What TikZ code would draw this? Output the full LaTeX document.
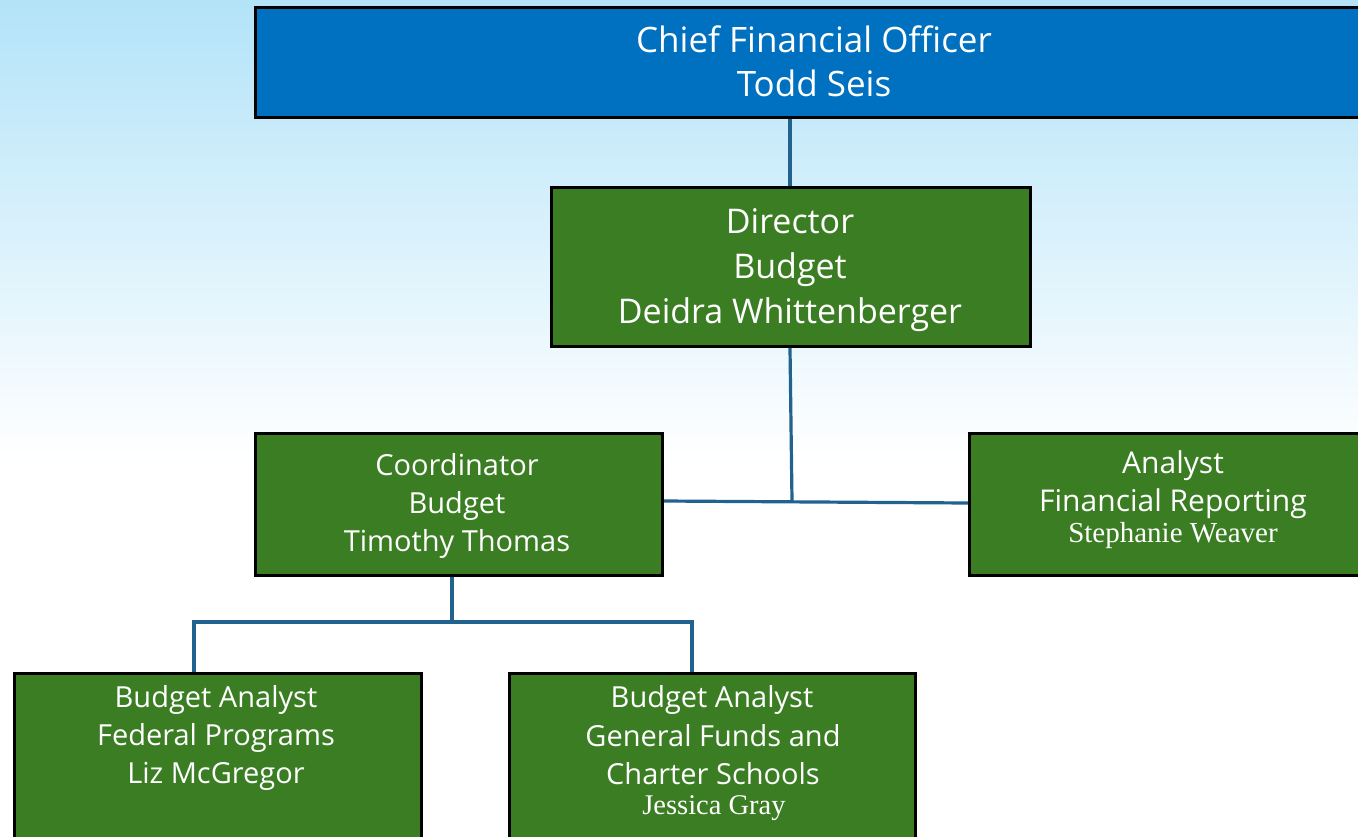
\documentclass[tikz,border=0pt]{standalone}
\usepackage{fontspec}
\setmainfont{Open Sans}
\newfontfamily\namefont{Liberation Serif}
\definecolor{cfoblue}{HTML}{0070C0}
\definecolor{boxgreen}{HTML}{3B7D23}
\definecolor{linkblue}{HTML}{21628F}
\definecolor{skytop}{HTML}{B3E3F8}
\tikzset{
  box/.style={draw=black, line width=3pt, fill=boxgreen, inner sep=0pt},
  cfobox/.style={draw=black, line width=3pt, fill=cfoblue, inner sep=0pt},
  txt/.style={text=white, align=center, inner sep=0pt},
  link/.style={draw=linkblue, line width=3.2pt},
}
\begin{document}
\begin{tikzpicture}[x=1pt,y=-1pt]
\useasboundingbox (0,0) rectangle (1358,836);
\clip (0,0) rectangle (1358,836);
\shade[top color=skytop, bottom color=white] (0,0) rectangle (1358,460);
\fill[white] (0,459) rectangle (1358,836);
% boxes
\node[cfobox, minimum width=1120pt, minimum height=110pt, anchor=north west] (cfo) at (254,6) {};
\node[box, minimum width=479pt, minimum height=159pt, anchor=north west] (dir) at (550,186) {};
\node[box, minimum width=407pt, minimum height=142pt, anchor=north west] (coord) at (254,432) {};
\node[box, minimum width=420pt, minimum height=142pt, anchor=north west] (fr) at (968,432) {};
\node[box, minimum width=407pt, minimum height=200pt, anchor=north west] (fp) at (13,672) {};
\node[box, minimum width=406pt, minimum height=200pt, anchor=north west] (gf) at (508,672) {};
% connectors
\coordinate (j1) at (792,501);
\coordinate (j2) at (452,622);
\draw[link] (cfo.south -| 790,0) -- (dir.north -| 790,0);
\draw[link] (dir.south -| 790,0) -- (j1);
\draw[link] (coord.east |- 0,501) -- (fr.west |- 0,503);
\draw[link] (coord.south -| j2) -- (j2);
\draw[link] (fp.north -| 194,0) |- (j2) -| (gf.north -| 692,0);
% texts
\node[txt, font=\fontsize{35}{44}\selectfont, anchor=base] (cfot1) at (814,52) {Chief Financial Officer};
\node[txt, font=\fontsize{35}{44}\selectfont, anchor=base] (cfot2) at (814,96) {Todd Seis};
\node[txt, font=\fontsize{34}{45}\selectfont, anchor=base] (dirt1) at (790,233) {Director};
\node[txt, font=\fontsize{34}{45}\selectfont, anchor=base] (dirt2) at (790,278) {Budget};
\node[txt, font=\fontsize{34}{45}\selectfont, anchor=base] (dirt3) at (790,323) {Deidra Whittenberger};
\node[txt, font=\fontsize{29}{38}\selectfont, anchor=base] (coordt1) at (457,475) {Coordinator};
\node[txt, font=\fontsize{29}{38}\selectfont, anchor=base] (coordt2) at (457,513) {Budget};
\node[txt, font=\fontsize{29}{38}\selectfont, anchor=base] (coordt3) at (457,551) {Timothy Thomas};
\node[txt, font=\fontsize{30}{38}\selectfont, anchor=base] (frt1) at (1173,473) {Analyst};
\node[txt, font=\fontsize{30}{38}\selectfont, anchor=base] (frt2) at (1173,511) {Financial Reporting};
\node[txt, font=\namefont\fontsize{29}{32}\selectfont, anchor=base] (frt3) at (1173,542) {Stephanie Weaver};
\node[txt, font=\fontsize{29}{38}\selectfont, anchor=base] (fpt1) at (216,707) {Budget Analyst};
\node[txt, font=\fontsize{29}{38}\selectfont, anchor=base] (fpt2) at (216,745) {Federal Programs};
\node[txt, font=\fontsize{29}{38}\selectfont, anchor=base] (fpt3) at (216,783) {Liz McGregor};
\node[txt, font=\fontsize{29}{38}\selectfont, anchor=base] (gft1) at (712,707) {Budget Analyst};
\node[txt, font=\fontsize{29}{38}\selectfont, anchor=base] (gft2) at (713,746) {General Funds and};
\node[txt, font=\fontsize{29}{38}\selectfont, anchor=base] (gft3) at (713,784) {Charter Schools};
\node[txt, font=\namefont\fontsize{28.5}{32}\selectfont, anchor=base] (gft4) at (714,814) {Jessica Gray};
\end{tikzpicture}
\end{document}
